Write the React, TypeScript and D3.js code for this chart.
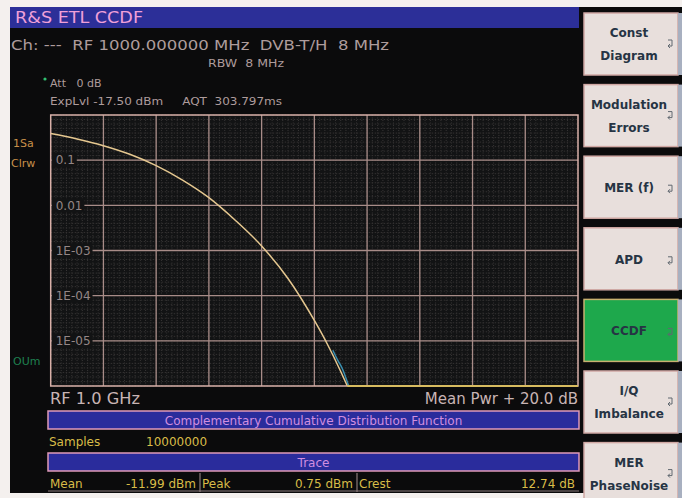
import { useEffect, useRef } from "react";
import * as d3 from "d3";

// trace: level above mean power (dB) vs. probability
const levelDb = [0, 1, 2, 3, 4, 5, 6, 7, 8, 9, 10, 10.5, 11, 11.25];
const ccdfMain = [0.389, 0.295, 0.209, 0.135, 0.0759, 0.0363, 0.0148, 0.00468, 0.00126, 0.00024, 0.0000282, 0.0000083, 0.0000021, 0.000001];
// second (blue) trace, only visible at the very end
const levelDbRef = [10.7, 10.9, 11.05, 11.3];
const ccdfRef = [0.0000062, 0.0000036, 0.0000025, 0.000001];
// floor of the trace (below display range)
const floorDb = [11.25, 20];

const yTicks = [0.1, 0.01, 0.001, 0.0001, 0.00001];
const yTickLabels = ["0.1", "0.01", "1E-03", "1E-04", "1E-05"];

const softkeys = [
  ["Const", "Diagram"],
  ["Modulation", "Errors"],
  ["MER (f)"],
  ["APD"],
  ["CCDF"],
  ["I/Q", "Imbalance"],
  ["MER", "PhaseNoise"],
];
const activeKey = "CCDF";

const resultRow = [
  { label: "Mean", value: "-11.99 dBm" },
  { label: "Peak", value: "0.75 dBm" },
  { label: "Crest", value: "12.74 dB" },
];

const FONT = "'DejaVu Sans', Verdana, sans-serif";
const nb = (s: string) => s.replace(/ /g, "\u00a0");

export default function App() {
  const svgRef = useRef<SVGSVGElement>(null);

  useEffect(() => {
    if (!svgRef.current) return;
    const svg = d3.select(svgRef.current);
    svg.selectAll("*").remove();

    const W = 682, H = 498;
    const left = 50.7, right = 578, top = 115, bottom = 386;

    const x = d3.scaleLinear().domain([0, 20]).range([left, right]);
    const y = d3.scaleLog().domain([1e-6, 1]).range([bottom, top]);

    // page + screen
    svg.append("rect").attr("width", W).attr("height", H).attr("fill", "#f4f0ee");
    svg.append("rect").attr("x", 10).attr("y", 7).attr("width", W - 10).attr("height", 486).attr("fill", "#0b0b0c");

    // title bar
    svg.append("rect").attr("x", 10).attr("y", 7).attr("width", 569).attr("height", 21).attr("fill", "#2c2f98");
    svg.append("text").attr("x", 15).attr("y", 23).text("R&S ETL CCDF")
      .attr("fill", "#f0a0d8").attr("font-size", 15).attr("font-family", FONT)
      .attr("textLength", 128).attr("lengthAdjust", "spacingAndGlyphs");

    // header lines
    const hdr = svg.append("g").attr("font-family", FONT).attr("fill", "#ae9c9c");
    hdr.append("text").attr("x", 11).attr("y", 50).attr("font-size", 14)
      .attr("textLength", 378).attr("lengthAdjust", "spacingAndGlyphs")
      .text(nb("Ch: ---  RF 1000.000000 MHz  DVB-T/H  8 MHz"));
    hdr.append("text").attr("x", 208).attr("y", 67).attr("font-size", 10)
      .attr("textLength", 76).attr("lengthAdjust", "spacingAndGlyphs").text(nb("RBW  8 MHz"));
    hdr.append("text").attr("x", 50).attr("y", 87).attr("font-size", 11).text(nb("Att   0 dB"));
    hdr.append("text").attr("x", 50).attr("y", 105).attr("font-size", 11)
      .attr("textLength", 232).attr("lengthAdjust", "spacingAndGlyphs")
      .text(nb("ExpLvl -17.50 dBm     AQT  303.797ms"));
    svg.append("circle").attr("cx", 45).attr("cy", 79).attr("r", 1.6).attr("fill", "#30c070");

    // left side labels
    svg.append("text").attr("x", 13).attr("y", 147).text("1Sa").attr("fill", "#c8904a").attr("font-size", 11).attr("font-family", FONT);
    svg.append("text").attr("x", 11).attr("y", 167).text("Clrw").attr("fill", "#c8904a").attr("font-size", 11).attr("font-family", FONT);
    svg.append("text").attr("x", 13).attr("y", 365).text("OUm").attr("fill", "#1f8050").attr("font-size", 11).attr("font-family", FONT);

    // plot background
    svg.append("rect").attr("x", left).attr("y", top).attr("width", right - left).attr("height", bottom - top).attr("fill", "#121314");

    // minor grid (dotted texture)
    const minorX = d3.range(0, 20.01, 0.2);
    svg.append("g").selectAll("line").data(minorX).join("line")
      .attr("x1", (d) => x(d)).attr("x2", (d) => x(d)).attr("y1", top).attr("y2", bottom)
      .attr("stroke", "#383636").attr("stroke-width", 1).attr("stroke-dasharray", "1,1.5");
    const minorY = d3.range(-6, 0.001, 0.1).map((e) => Math.pow(10, e));
    svg.append("g").selectAll("line").data(minorY).join("line")
      .attr("x1", left).attr("x2", right).attr("y1", (d) => y(d)).attr("y2", (d) => y(d))
      .attr("stroke", "#343232").attr("stroke-width", 1).attr("stroke-dasharray", "1.5,1.5");

    // major grid
    svg.append("g").selectAll("line").data(d3.range(2, 20, 2)).join("line")
      .attr("x1", (d) => x(d)).attr("x2", (d) => x(d)).attr("y1", top).attr("y2", bottom)
      .attr("stroke", "#a88c88").attr("stroke-width", 1.3);
    svg.append("g").selectAll("line").data(yTicks).join("line")
      .attr("x1", left).attr("x2", right).attr("y1", (d) => y(d)).attr("y2", (d) => y(d))
      .attr("stroke", "#a88c88").attr("stroke-width", 1.3);

    // y tick labels, inside the plot on a black patch
    const tl = svg.append("g").selectAll("g").data(yTicks).join("g")
      .attr("transform", (d) => `translate(${left + 3},${y(d)})`);
    const patch = tl.append("rect").attr("x", -2).attr("y", -7).attr("height", 14).attr("fill", "#121314");
    const labels = tl.append("text").text((_, i) => yTickLabels[i])
      .attr("x", 2).attr("dy", "0.35em").attr("font-size", 12).attr("font-family", FONT)
      .attr("fill", "#948686");
    labels.each(function (_, i) {
      const w = (this as SVGTextElement).getComputedTextLength();
      d3.select(patch.nodes()[i]).attr("width", w + 6);
    });

    // frame
    svg.append("rect").attr("x", left).attr("y", top).attr("width", right - left).attr("height", bottom - top)
      .attr("fill", "none").attr("stroke", "#d8b0a8").attr("stroke-width", 1.5);

    // traces
    svg.append("path")
      .attr("d", d3.line<number>().curve(d3.curveMonotoneX).x((d) => x(d)).y((_, i) => y(ccdfRef[i]))(levelDbRef))
      .attr("fill", "none").attr("stroke", "#3a8fb0").attr("stroke-width", 1.5);
    svg.append("path")
      .attr("d", d3.line<number>().curve(d3.curveMonotoneX).x((d) => x(d)).y((_, i) => y(ccdfMain[i]))(levelDb))
      .attr("fill", "none").attr("stroke", "#e6c890").attr("stroke-width", 1.5);
    svg.append("path")
      .attr("d", d3.line<number>().x((d) => x(d)).y(() => y(1e-6))(floorDb))
      .attr("fill", "none").attr("stroke", "#d8bc60").attr("stroke-width", 2);

    // bottom axis annotations
    svg.append("text").attr("x", 50).attr("y", 404).text("RF 1.0 GHz")
      .attr("fill", "#c8b4b4").attr("font-size", 15).attr("font-family", FONT)
      .attr("textLength", 90).attr("lengthAdjust", "spacingAndGlyphs");
    svg.append("text").attr("x", right).attr("y", 404).attr("text-anchor", "end").text("Mean Pwr + 20.0 dB")
      .attr("fill", "#c8b4b4").attr("font-size", 15).attr("font-family", FONT);

    // result table
    const tx0 = 48, tx1 = 579;
    const bar = (yy: number, label: string) => {
      svg.append("rect").attr("x", tx0).attr("y", yy).attr("width", tx1 - tx0).attr("height", 18)
        .attr("fill", "#2a2c9c").attr("stroke", "#e09ab8").attr("stroke-width", 1.5);
      svg.append("text").attr("x", (tx0 + tx1) / 2).attr("y", yy + 13.5).attr("text-anchor", "middle")
        .text(label).attr("fill", "#d08ee0").attr("font-size", 12).attr("font-family", FONT);
    };
    bar(411, "Complementary Cumulative Distribution Function");
    bar(453, "Trace");

    const yel = "#d8bc48";
    svg.append("text").attr("x", 49).attr("y", 446).text("Samples").attr("fill", yel).attr("font-size", 12).attr("font-family", FONT);
    svg.append("text").attr("x", 146).attr("y", 446).text("10000000").attr("fill", yel).attr("font-size", 12).attr("font-family", FONT);
    svg.append("line").attr("x1", tx0).attr("x2", tx1).attr("y1", 491).attr("y2", 491).attr("stroke", "#8a7a7a");

    const cellX = [48, 200, 357, 579];
    resultRow.forEach((c, i) => {
      svg.append("text").attr("x", cellX[i] + 2).attr("y", 488).text(c.label)
        .attr("fill", yel).attr("font-size", 12).attr("font-family", FONT);
      svg.append("text").attr("x", cellX[i + 1] - 4).attr("y", 488).attr("text-anchor", "end").text(c.value)
        .attr("fill", yel).attr("font-size", 12).attr("font-family", FONT);
      if (i > 0) svg.append("line").attr("x1", cellX[i]).attr("x2", cellX[i]).attr("y1", 473).attr("y2", 492)
        .attr("stroke", "#8a7a7a").attr("stroke-width", 1.2);
    });

    // softkeys
    const keyTop = 13, keyStep = 71.6, keyH = 62;
    const kg = svg.append("g").selectAll("g").data(softkeys).join("g")
      .attr("transform", (_, i) => `translate(584,${keyTop + i * keyStep})`);
    kg.append("rect").attr("width", 94).attr("height", keyH)
      .attr("fill", (d) => (d[0] === activeKey ? "#1ea84c" : "#e8dfdc"))
      .attr("stroke", (d) => (d[0] === activeKey ? "#c8b070" : "#d0a8a4")).attr("stroke-width", 1.5);
    kg.append("rect").attr("x", 94).attr("width", 4).attr("height", keyH).attr("fill", "#a8b0c0");
    kg.each(function (d) {
      const g = d3.select(this);
      const ys = d.length === 2 ? [24, 47] : [36];
      d.forEach((t, j) => {
        g.append("text").attr("x", 45).attr("y", ys[j]).attr("text-anchor", "middle").text(t)
          .attr("fill", "#263444").attr("font-size", 12).attr("font-weight", "bold").attr("font-family", FONT);
      });
      const iy = d.length === 2 ? 30 : 32;
      g.append("path").attr("d", `M84,${iy - 3} h4 v6 h-4 M84,${iy + 3} l2,-2 M84,${iy + 3} l2,2`)
        .attr("fill", "none").attr("stroke", "#606870").attr("stroke-width", 1);
    });
  }, []);

  return (
    <svg ref={svgRef} width={682} height={498} style={{ position: "absolute", left: 0, top: 0 }} />
  );
}
